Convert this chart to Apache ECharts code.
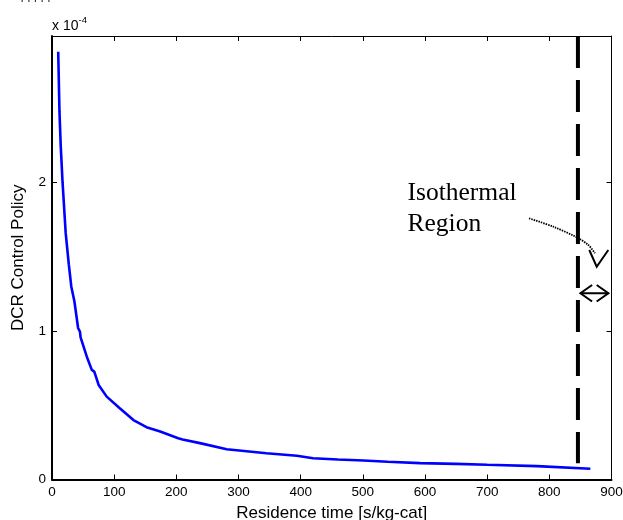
<!DOCTYPE html>
<html>
<head>
<meta charset="utf-8">
<script src="https://cdn.jsdelivr.net/npm/echarts@6/dist/echarts.min.js"></script>
<style>
html,body{margin:0;padding:0;background:#fff;}
#chart{width:623px;height:520px;}
</style>
</head>
<body>
<div id="chart"></div>
<script>
// Residence time [s/kg-cat]
var residenceTime = [10, 12, 14, 17, 22, 27, 31, 36, 42, 45, 46, 49, 56, 64, 68, 75, 88, 109, 131, 152, 174, 203, 210, 238, 281, 345, 394, 420, 460, 501, 540, 592, 650, 700, 780, 866];
// DCR control policy (x 10^-4)
var controlPolicy = [2.88, 2.48, 2.25, 2.0, 1.66, 1.45, 1.30, 1.20, 1.02, 0.995, 0.957, 0.944, 0.827, 0.738, 0.726, 0.637, 0.558, 0.48, 0.40, 0.352, 0.323, 0.278, 0.27, 0.245, 0.204, 0.177, 0.16, 0.143, 0.135, 0.128, 0.12, 0.11, 0.105, 0.099, 0.09, 0.072];
// Start of isothermal region and extent of the marker arrow
var isothermalStart = [846];
var isothermalArrow = [850, 895, 1.254];
var xTicks = [0, 100, 200, 300, 400, 500, 600, 700, 800, 900];
var yTicks = [0, 1, 2];

var FONT = "'Liberation Sans', Arial, sans-serif";
var YMAX = 2.986;

var chart = echarts.init(document.getElementById('chart'), null, {renderer: 'canvas'});

var curve = residenceTime.map(function (x, i) { return [x, controlPolicy[i]]; });

var option = {
  animation: false,
  backgroundColor: '#fff',
  grid: {left: 52, right: 11.5, top: 36, bottom: 40.5, containLabel: false, outerBoundsMode: 'none'},
  xAxis: [{
    type: 'value', min: xTicks[0], max: xTicks[xTicks.length - 1], interval: 100,
    position: 'bottom',
    name: 'Residence time [s/kg-cat]', nameLocation: 'middle', nameGap: 25,
    nameTextStyle: {fontFamily: FONT, fontSize: 17, color: '#000'},
    axisLine: {show: true, onZero: false, lineStyle: {color: '#000', width: 2}},
    axisTick: {show: true, inside: true, length: 5, lineStyle: {color: '#000', width: 1}},
    axisLabel: {fontFamily: FONT, fontSize: 13.5, color: '#000', margin: 6},
    splitLine: {show: false}
  }, {
    type: 'value', min: xTicks[0], max: xTicks[xTicks.length - 1], interval: 100,
    position: 'top',
    axisLine: {show: true, onZero: false, lineStyle: {color: '#000', width: 1}},
    axisTick: {show: true, inside: true, length: 5, lineStyle: {color: '#000', width: 1}},
    axisLabel: {show: false},
    splitLine: {show: false}
  }],
  yAxis: [{
    type: 'value', min: 0, max: YMAX, interval: 1,
    position: 'left',
    name: 'DCR Control Policy', nameLocation: 'middle', nameGap: 25, nameRotate: 90,
    nameTextStyle: {fontFamily: FONT, fontSize: 17, color: '#000'},
    axisLine: {show: true, onZero: false, lineStyle: {color: '#000', width: 2}},
    axisTick: {show: true, inside: true, length: 5, lineStyle: {color: '#000', width: 1}},
    axisLabel: {fontFamily: FONT, fontSize: 13.5, color: '#000', margin: 6, showMaxLabel: false,
      formatter: function (v) { return yTicks.indexOf(v) >= 0 ? String(v) : ''; }},
    splitLine: {show: false}
  }, {
    type: 'value', min: 0, max: YMAX, interval: 1,
    position: 'right',
    axisLine: {show: true, onZero: false, lineStyle: {color: '#000', width: 1}},
    axisTick: {show: true, inside: true, length: 5, lineStyle: {color: '#000', width: 1}},
    axisLabel: {show: false},
    splitLine: {show: false}
  }],
  series: [{
    type: 'line', data: curve, xAxisIndex: 0, yAxisIndex: 0,
    showSymbol: false, symbol: 'none',
    lineStyle: {color: '#0000ff', width: 2.6},
    z: 3
  }, {
    type: 'line', data: [[isothermalStart[0], YMAX], [isothermalStart[0], 0.11]],
    xAxisIndex: 0, yAxisIndex: 0, showSymbol: false, symbol: 'none',
    lineStyle: {color: '#000', width: 4, type: [32, 12]},
    z: 4
  }]
};
chart.setOption(option);

// Annotations
var pL = chart.convertToPixel({xAxisIndex: 0, yAxisIndex: 0}, [isothermalArrow[0], isothermalArrow[2]]);
var pR = chart.convertToPixel({xAxisIndex: 0, yAxisIndex: 0}, [isothermalArrow[1], isothermalArrow[2]]);
var ax = 11.7, ay = 8.3;
var black = {stroke: '#000', lineWidth: 2, fill: null};

chart.setOption({
  graphic: [
    {type: 'text', left: 52, top: 15, style: {
      text: '{a|x 10}{b|-4}', fontFamily: FONT,
      rich: {a: {fontSize: 14, fontFamily: FONT, fill: '#000', verticalAlign: 'bottom', lineHeight: 16},
             b: {fontSize: 9.5, fontFamily: FONT, fill: '#000', verticalAlign: 'top', padding: [0, 0, 8, 0]}}
    }},
    {type: 'text', left: 20.5, top: -7.3, style: {text: 'ı ı ı ı ı', fontFamily: FONT, fontSize: 12, fill: '#222'}},
    {type: 'text', left: 407.5, top: 178, style: {
      text: 'Isothermal\nRegion', fontFamily: "'Liberation Serif', 'Times New Roman', serif",
      fontSize: 25.5, lineHeight: 31, fill: '#000'}},
    {type: 'polyline', shape: {points: [[529, 218.3], [553.3, 226.7], [576.7, 237.3], [588.3, 245], [595, 253.3]], smooth: 0.3},
      style: {stroke: '#000', lineWidth: 1.8, lineDash: [1.5, 1], fill: null}},
    {type: 'polyline', shape: {points: [[589.3, 250], [596.7, 266.7], [608.3, 250]]},
      style: {stroke: '#000', lineWidth: 2, fill: null}},
    {type: 'line', shape: {x1: pL[0], y1: pL[1], x2: pR[0], y2: pR[1]}, style: black},
    {type: 'polyline', shape: {points: [[pL[0] + ax, pL[1] - ay], [pL[0], pL[1]], [pL[0] + ax, pL[1] + ay]]}, style: black},
    {type: 'polyline', shape: {points: [[pR[0] - ax, pR[1] - ay], [pR[0], pR[1]], [pR[0] - ax, pR[1] + ay]]}, style: black}
  ]
});
</script>
</body>
</html>
